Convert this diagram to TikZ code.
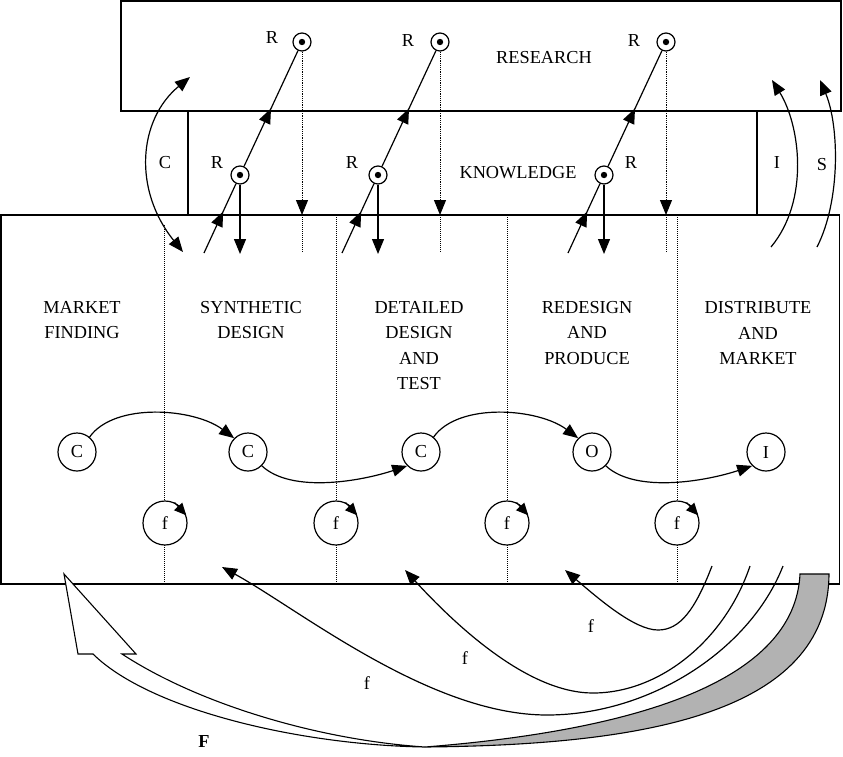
\documentclass[tikz,border=0pt]{standalone}
\usepackage{fontspec}
\setmainfont{Liberation Serif}
\usetikzlibrary{arrows.meta,decorations.markings}
\definecolor{ribbongray}{RGB}{178,178,178}

\begin{document}
\begin{tikzpicture}[
    x=1pt, y=-1pt,
    font=\fontsize{18.3}{25.6}\selectfont,
    line width=1.1pt,
    frame/.style={line width=1.4pt},
    divider/.style={densely dotted, line width=1pt},
    arrow/.style={-{Triangle[length=15pt,width=12pt]}, line width=1.2pt},
    dblarrow/.style={{Triangle[length=15pt,width=12pt]}-{Triangle[length=15pt,width=12pt]}, line width=1.2pt},
    smallarrow/.style={-{Triangle[length=12pt,width=11pt]}, line width=1.1pt},
    midarrow/.style={line width=1.2pt, postaction={decorate}, decoration={markings, mark=at position #1 with {\arrow{Triangle[length=15pt,width=12pt]}}}},
    rdot/.style={circle, draw, line width=1.2pt, minimum size=18pt, inner sep=0pt, fill=white, path picture={\fill[black] (path picture bounding box.center) circle (3.2pt);}},
    stagenode/.style={circle, draw, line width=1.2pt, minimum size=38pt, inner sep=0pt, fill=white},
    fbnode/.style={circle, draw, line width=1.2pt, minimum size=44pt, inner sep=0pt, fill=white},
    stagetext/.style={align=center, inner sep=0pt}
]
\useasboundingbox (0,0) rectangle (843,756);

% research and knowledge frames
\draw[frame] (121,1) rectangle (841,111);
\draw[frame] (188,111) -- (188,215);
\draw[frame] (757,111) -- (757,215);
\draw[frame] (1,215) rectangle (839.5,584);

\node (research) at (544,58) {RESEARCH};
\node (knowledge) at (518,173) {KNOWLEDGE};

% stage dividers
\draw[divider] (164,225) -- (164,584);
\draw[divider] (336,217) -- (336,584);
\draw[divider] (507,215) -- (507,584);
\draw[divider] (677,217) -- (677,584);

\node[stagetext] (market) at (82,320) {MARKET\\FINDING};
\node[stagetext] (synthetic) at (251,320) {SYNTHETIC\\DESIGN};
\node[stagetext] (detailed) at (419,345.5) {DETAILED\\DESIGN\\AND\\TEST};
\node[stagetext] (redesign) at (587,333) {REDESIGN\\AND\\PRODUCE};
\node[stagetext] (distribute) at (758,333) {DISTRIBUTE\\AND\\MARKET};

% research links
\node[rdot] (rA) at (302,42) {};
\node[rdot] (rB) at (440,42) {};
\node[rdot] (rC) at (666,42) {};
\node[rdot] (kA) at (240,175) {};
\node[rdot] (kB) at (378,175) {};
\node[rdot] (kC) at (604,175) {};
\node (rAlbl) at (272,38) {R};
\node (rBlbl) at (408,41) {R};
\node (rClbl) at (634,41) {R};
\node (kAlbl) at (217,163) {R};
\node (kBlbl) at (352,163) {R};
\node (kClbl) at (631,163) {R};

\coordinate (sA) at (204,253);
\coordinate (sB) at (342,253);
\coordinate (sC) at (568,253);
\coordinate (dA) at (240,254);
\coordinate (dB) at (378,254);
\coordinate (dC) at (604,254);
\coordinate (tA) at (302,215);
\coordinate (tB) at (440,215);
\coordinate (tC) at (666,215);
\coordinate (uA) at (302,253);
\coordinate (uB) at (440,253);
\coordinate (uC) at (666,253);

\draw[midarrow=0.6] (sA) -- (kA);
\draw[midarrow=0.5] (kA) -- (rA);
\draw[arrow] (kA) -- (dA);
\draw[arrow, divider] (rA) -- (tA);
\draw[divider] (tA) -- (uA);

\draw[midarrow=0.6] (sB) -- (kB);
\draw[midarrow=0.5] (kB) -- (rB);
\draw[arrow] (kB) -- (dB);
\draw[arrow, divider] (rB) -- (tB);
\draw[divider] (tB) -- (uB);

\draw[midarrow=0.6] (sC) -- (kC);
\draw[midarrow=0.5] (kC) -- (rC);
\draw[arrow] (kC) -- (dC);
\draw[arrow, divider] (rC) -- (tC);
\draw[divider] (tC) -- (uC);

% C, I and S exchanges
\coordinate (cLow) at (183,252);
\coordinate (cHigh) at (190,77);
\coordinate (iLow) at (771,247);
\coordinate (iHigh) at (772,80);
\coordinate (sLow) at (817,247);
\coordinate (sHigh) at (820,80);
\draw[dblarrow] (cLow) .. controls (133,190) and (138,120) .. (cHigh);
\draw[arrow] (iLow) .. controls (810,200) and (800,125) .. (iHigh);
\draw[arrow] (sLow) .. controls (841,200) and (839,125) .. (sHigh);
\node (clbl) at (165,163) {C};
\node (ilbl) at (777,163) {I};
\node (slbl) at (822,165) {S};

% stage states
\node[stagenode] (mf) at (77,452) {C};
\node[stagenode] (sd) at (248,452) {C};
\node[stagenode] (dd) at (421,452) {C};
\node[stagenode] (rp) at (592,452) {O};
\node[stagenode] (dm) at (766,452) {I};

\draw[arrow] (mf.50) .. controls +(25,-35) and +(-40,-30) .. (sd.135);
\draw[arrow] (sd.-45) .. controls +(30,28) and +(-45,15) .. (dd.-135);
\draw[arrow] (dd.50) .. controls +(25,-35) and +(-40,-30) .. (rp.135);
\draw[arrow] (rp.-45) .. controls +(30,28) and +(-45,15) .. (dm.-135);

% local feedback
\node[fbnode] (fA) at (165,523) {f};
\node[fbnode] (fB) at (336,523) {f};
\node[fbnode] (fC) at (507,523) {f};
\node[fbnode] (fD) at (677,523) {f};
\draw[smallarrow] (fA.65) -- (fA.20);
\draw[smallarrow] (fB.65) -- (fB.20);
\draw[smallarrow] (fC.65) -- (fC.20);
\draw[smallarrow] (fD.65) -- (fD.20);

% feedback loops
\coordinate (loopA0) at (712,566);
\coordinate (loopA1) at (565,570);
\coordinate (loopB0) at (750,566);
\coordinate (loopB1) at (405,570);
\coordinate (loopC0) at (783,566);
\coordinate (loopC1) at (222,567);
\draw[arrow] (loopA0) .. controls (695,610) and (680,630) .. (658,630) .. controls (635,630) and (600,600) .. (loopA1);
\draw[arrow] (loopB0) .. controls (725,640) and (660,693) .. (593,693) .. controls (530,693) and (460,630) .. (loopB1);
\draw[arrow] (loopC0) .. controls (750,650) and (650,715) .. (547,715) .. controls (430,715) and (300,610) .. (loopC1);
\node (floopA) at (591,626) {f};
\node (floopB) at (465,658) {f};
\node (floopC) at (367,683) {f};

% big feedback ribbon
\coordinate (Ftip) at (64,574);
\coordinate (Ftwist) at (425,747);
\draw[fill=white] (Ftip) -- (78,654) -- (93,654) .. controls (150,710) and (300,745) .. (Ftwist) .. controls (320,740) and (200,705) .. (122,654) -- (136,654) -- cycle;
\draw[fill=ribbongray] (Ftwist) .. controls (640,745) and (828,715) .. (829,574) -- (800,574) .. controls (795,680) and (640,730) .. (Ftwist) -- cycle;
\node[font=\fontsize{18.3}{25.6}\selectfont\bfseries] (Flbl) at (204,741) {F};

\end{tikzpicture}
\end{document}
